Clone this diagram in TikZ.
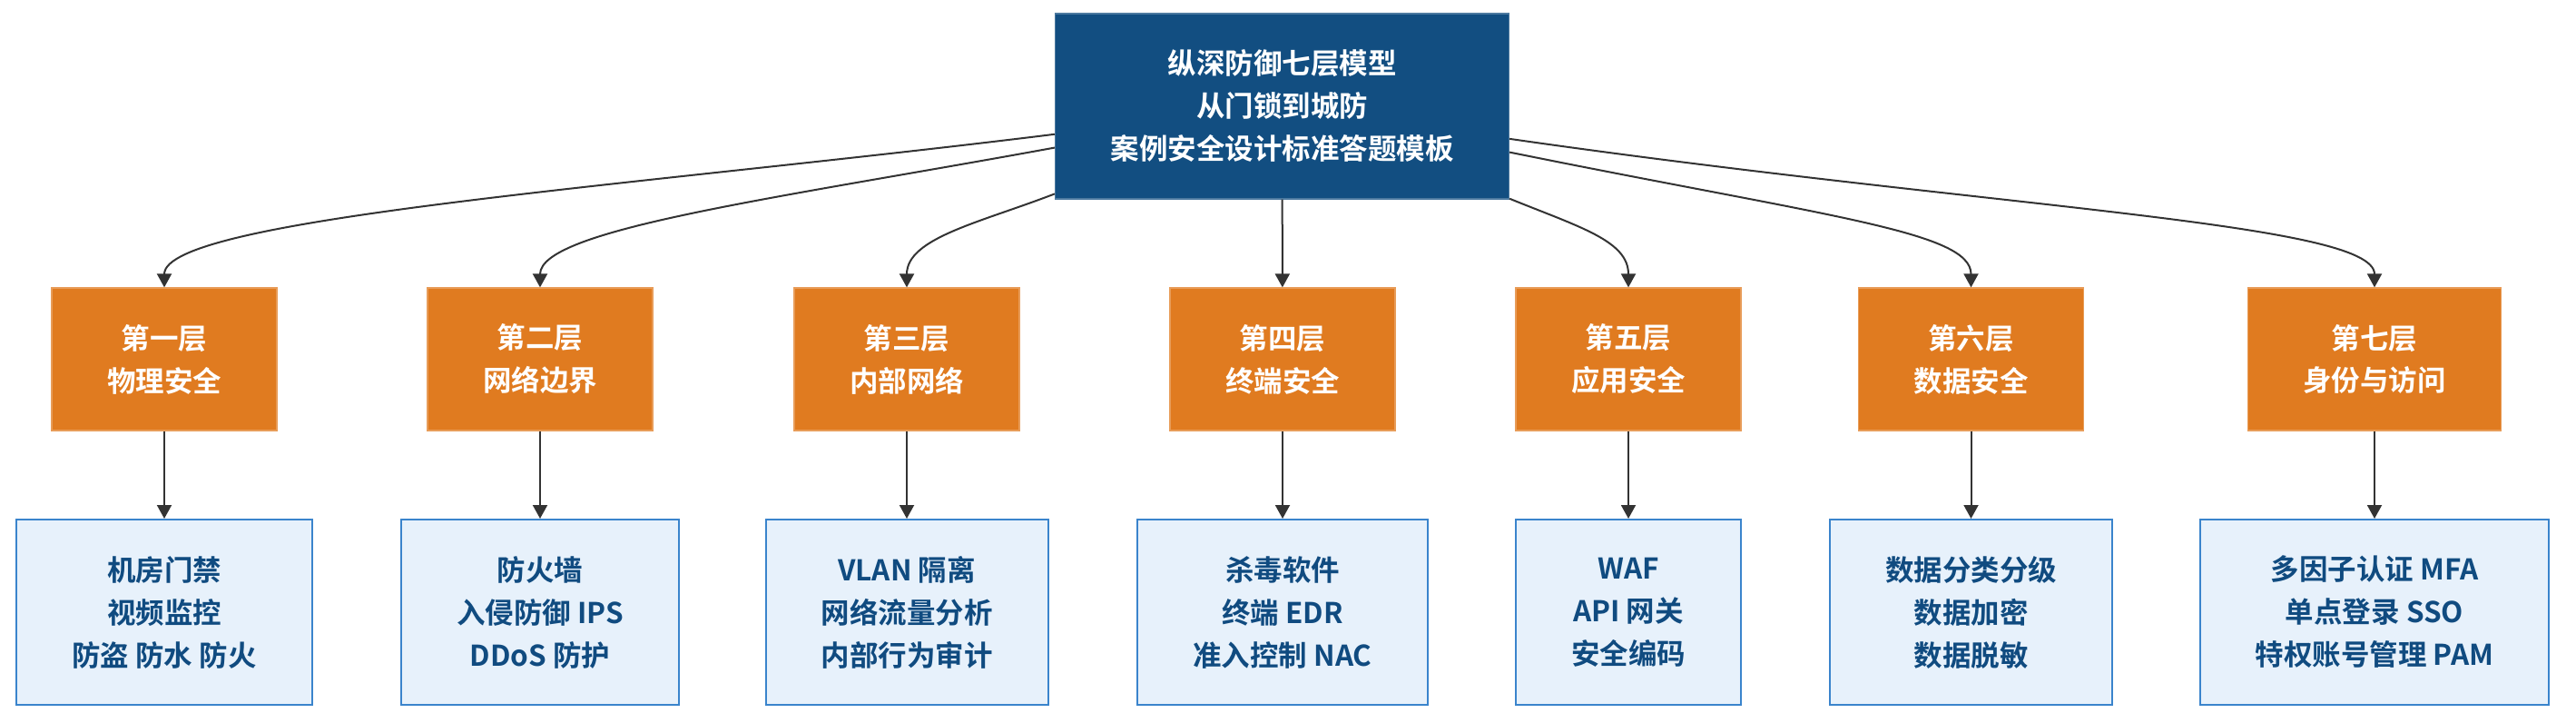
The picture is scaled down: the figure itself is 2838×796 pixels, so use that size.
\documentclass[tikz,border=0pt]{standalone}
\usepackage{fontspec}
\setmainfont{Noto Sans CJK SC}[BoldFont={Noto Sans CJK SC Bold}]
\usetikzlibrary{arrows.meta}
\definecolor{topblue}{HTML}{124E81}
\definecolor{layerorange}{HTML}{E07B20}
\definecolor{itemfill}{HTML}{E7F1FB}
\definecolor{itemline}{HTML}{3A84CC}
\definecolor{itemtext}{HTML}{104B80}
\definecolor{edgegray}{HTML}{333333}
\begin{document}
\begin{tikzpicture}[
    x=0.5pt, y=-0.5pt,
    font=\bfseries\fontsize{15.75}{23.5}\selectfont,
    >={Triangle[length=7.5pt,width=8pt]},
    titlebox/.style={fill=topblue, draw=topblue!75!white, line width=0.6pt, text=white,
      align=center, inner xsep=30.5pt, minimum height=102pt},
    layerbox/.style={fill=layerorange, draw=layerorange!75!white, line width=0.6pt, text=white,
      align=center, inner xsep=30.5pt, minimum height=78.5pt},
    itembox/.style={fill=itemfill, draw=itemline, line width=1pt, text=itemtext,
      align=center, inner xsep=30.5pt, minimum height=102pt},
    edge/.style={draw=edgegray, line width=1pt, ->},
  ]
  \useasboundingbox (0,0) rectangle (2838,796);

  % ---- titel ----
  \node[titlebox] (top) at (1412.5,117) {纵深防御七层模型\\从门锁到城防\\案例安全设计标准答题模板};

  % ---- sieben schichten ----
  \foreach \i/\x/\head/\name in {1/181/第一层/物理安全, 2/595/第二层/网络边界, 3/999/第三层/内部网络,
      4/1413/第四层/终端安全, 5/1794/第五层/应用安全, 6/2171.5/第六层/数据安全, 7/2616/第七层/身份与访问}
    \node[layerbox] (L\i) at (\x,395.5) {\head\\\name};

  % ---- massnahmen ----
  \foreach \i/\x/\a/\b/\c in {1/181/机房门禁/视频监控/防盗 防水 防火, 2/595/防火墙/入侵防御 IPS/DDoS 防护,
      3/999/VLAN 隔离/网络流量分析/内部行为审计, 4/1413/杀毒软件/终端 EDR/准入控制 NAC,
      5/1794/WAF/API 网关/安全编码, 6/2171.5/数据分类分级/数据加密/数据脱敏,
      7/2616/多因子认证 MFA/单点登录 SSO/特权账号管理 PAM}
  {
    \node[itembox] (D\i) at (\x,674) {\a\\\b\\\c};
    \draw[edge] (L\i) -- (D\i);
  }

  % ---- verbindungen titel -> schichten ----
  \draw[edge] (top) .. controls (700,205) and (181,240) .. (L1);
  \draw[edge] (top) .. controls (859,218) and (595,252) .. (L2);
  \draw[edge] (top) .. controls (1080,245) and (999,262) .. (L3);
  \draw[edge] (top) -- (L4);
  \draw[edge] (top) .. controls (1740,250) and (1794,265) .. (L5);
  \draw[edge] (top) .. controls (2016,239) and (2171.5,255) .. (L6);
  \draw[edge] (top) .. controls (2200,230) and (2616,245) .. (L7);
\end{tikzpicture}
\end{document}
